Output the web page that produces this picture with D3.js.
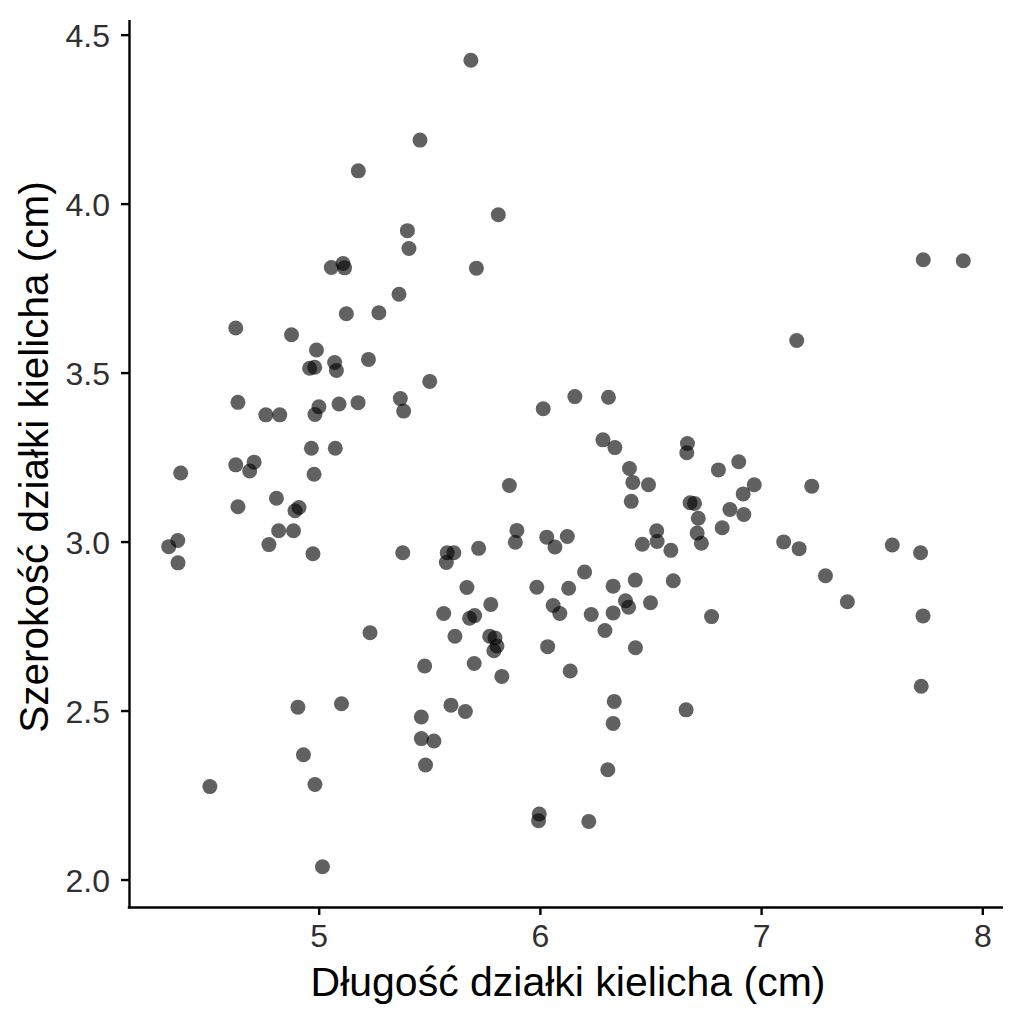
<!DOCTYPE html>
<html>
<head>
<meta charset="utf-8">
<script src="https://cdn.jsdelivr.net/npm/d3@7/dist/d3.min.js"></script>
<style>
  html, body { margin: 0; padding: 0; background: #ffffff; }
  svg { display: block; }
</style>
</head>
<body>
<svg id="chart" width="1024" height="1024"></svg>
<script>
// Sepal length (cm), jittered values
const sepalLength = [
  5.688, 5.458, 5.179, 5.812, 5.401, 5.408, 5.057, 5.110, 5.117, 5.713,
  5.363, 5.125, 5.272, 7.733, 7.914, 4.625, 4.877, 4.990, 4.959, 4.982,
  5.072, 5.080, 5.225, 5.502, 4.635, 4.761, 4.824, 5.001, 4.983, 5.092,
  5.178, 5.369, 5.384, 4.967, 5.075, 4.376, 4.625, 4.708, 4.688, 4.979,
  4.809, 4.911, 4.893, 4.635, 4.819, 4.886, 4.363, 4.322, 4.364, 4.775,
  4.974, 5.380, 6.015, 6.158, 6.310, 6.285, 6.339, 6.667, 6.664, 6.807,
  6.405, 6.420, 6.491, 6.413, 5.862, 6.679, 6.699, 6.859, 6.716, 6.824,
  6.711, 6.730, 5.896, 5.889, 6.031, 6.068, 6.124, 6.528, 6.530, 6.463,
  6.592, 5.581, 5.611, 5.577, 5.723, 6.202, 6.431, 6.603, 5.670, 5.986,
  6.130, 6.331, 5.778, 6.060, 6.090, 6.387, 6.401, 6.500, 5.565, 5.705,
  5.682, 6.232, 6.331, 6.776, 7.161, 6.899, 6.969, 6.919, 7.229, 6.922,
  7.102, 7.172, 7.593, 7.721, 7.291, 7.390, 7.732, 5.232, 5.479, 4.906,
  5.103, 5.464, 5.464, 5.483, 4.931, 4.508, 4.983, 5.017, 5.616, 5.773,
  5.797, 5.806, 5.792, 6.035, 6.294, 6.432, 5.703, 5.828, 6.137, 5.598,
  5.663, 5.521, 6.336, 6.331, 6.661, 6.307, 5.997, 5.994, 6.221, 7.724
];

// Sepal width (cm), jittered values
const sepalWidth = [
  4.424, 4.188, 4.097, 3.967, 3.920, 3.867, 3.811, 3.823, 3.810, 3.809,
  3.732, 3.674, 3.677, 3.834, 3.831, 3.632, 3.612, 3.567, 3.513, 3.516,
  3.530, 3.506, 3.539, 3.474, 3.412, 3.375, 3.375, 3.399, 3.376, 3.407,
  3.411, 3.423, 3.386, 3.276, 3.276, 3.203, 3.227, 3.235, 3.209, 3.199,
  3.128, 3.101, 3.091, 3.103, 3.032, 3.032, 3.003, 2.985, 2.937, 2.991,
  2.964, 2.967, 3.393, 3.429, 3.427, 3.301, 3.278, 3.290, 3.263, 3.212,
  3.216, 3.175, 3.168, 3.119, 3.166, 3.115, 3.113, 3.095, 3.069, 3.041,
  3.025, 2.995, 3.033, 2.998, 3.013, 2.984, 3.015, 3.032, 3.000, 2.992,
  2.974, 2.967, 2.967, 2.938, 2.980, 2.910, 2.886, 2.884, 2.864, 2.865,
  2.862, 2.868, 2.814, 2.811, 2.787, 2.825, 2.806, 2.819, 2.787, 2.781,
  2.773, 2.784, 2.789, 2.778, 3.595, 3.236, 3.168, 3.141, 3.164, 3.080,
  2.999, 2.979, 2.990, 2.967, 2.899, 2.822, 2.780, 2.730, 2.632, 2.510,
  2.520, 2.481, 2.417, 2.339, 2.369, 2.275, 2.281, 2.038, 2.720, 2.720,
  2.715, 2.691, 2.677, 2.689, 2.737, 2.686, 2.639, 2.601, 2.617, 2.516,
  2.497, 2.410, 2.527, 2.462, 2.502, 2.325, 2.194, 2.174, 2.172, 2.572
];

const xTicks = [5, 6, 7, 8];
const yTicks = [2.0, 2.5, 3.0, 3.5, 4.0, 4.5];
const xTitle = "Długość działki kielicha (cm)";
const yTitle = "Szerokość działki kielicha (cm)";

const points = sepalLength.map((v, i) => ({ x: v, y: sepalWidth[i] }));

const panel = { left: 129, right: 1003, top: 20, bottom: 907 };

function expand(ext, f) {
  const d = ext[1] - ext[0];
  return [ext[0] - f * d, ext[1] + f * d];
}

const x = d3.scaleLinear()
  .domain(expand(d3.extent(sepalLength), 0.05))
  .range([panel.left, panel.right]);
const y = d3.scaleLinear()
  .domain(expand(d3.extent(sepalWidth), 0.05))
  .range([panel.bottom, panel.top]);

const svg = d3.select("#chart");
const FONT = "'Liberation Sans', Arial, Helvetica, sans-serif";
const TICK_COLOR = "#303030";

// points
svg.append("g")
  .selectAll("circle")
  .data(points)
  .join("circle")
  .attr("cx", d => x(d.x))
  .attr("cy", d => y(d.y))
  .attr("r", 7.5)
  .attr("fill", "#000")
  .attr("fill-opacity", 0.62);

// x axis
const gx = svg.append("g")
  .attr("transform", `translate(0,${panel.bottom})`)
  .call(d3.axisBottom(x).tickValues(xTicks).tickSize(8).tickSizeOuter(0).tickFormat(d3.format("d")));
gx.select(".domain").attr("stroke", "#000").attr("stroke-width", 2.4)
  .attr("d", `M${panel.left - 1.2},0.5H${panel.right}`);
gx.selectAll(".tick line").attr("stroke", "#000").attr("stroke-width", 2.4);
gx.selectAll(".tick text")
  .attr("y", 17).attr("dy", "0.71em")
  .attr("fill", TICK_COLOR)
  .style("font-family", FONT).style("font-size", "32px");

// y axis
const gy = svg.append("g")
  .attr("transform", `translate(${panel.left},0)`)
  .call(d3.axisLeft(y).tickValues(yTicks).tickSize(8).tickSizeOuter(0).tickFormat(d3.format(".1f")));
gy.select(".domain").attr("stroke", "#000").attr("stroke-width", 2.4)
  .attr("d", `M0.5,${panel.top}V${panel.bottom + 1.2}`);
gy.selectAll(".tick line").attr("stroke", "#000").attr("stroke-width", 2.4);
gy.selectAll(".tick text")
  .attr("x", -19).attr("dy", "0.38em")
  .attr("fill", TICK_COLOR)
  .style("font-family", FONT).style("font-size", "32px");

svg.selectAll(".tick text").attr("font-family", null).attr("font-size", null);

// axis titles
svg.append("text")
  .attr("x", 568)
  .attr("y", 996)
  .attr("text-anchor", "middle")
  .attr("fill", "#000")
  .style("font-family", FONT).style("font-size", "41px")
  .text(xTitle);

svg.append("text")
  .attr("transform", `translate(48,457) rotate(-90)`)
  .attr("text-anchor", "middle")
  .attr("fill", "#000")
  .style("font-family", FONT).style("font-size", "40.5px")
  .text(yTitle);
</script>
</body>
</html>
